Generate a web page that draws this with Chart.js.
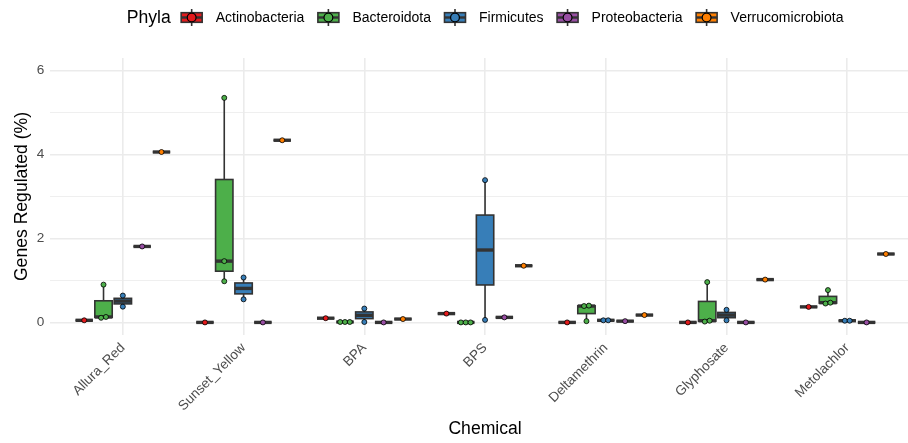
<!DOCTYPE html>
<html>
<head>
<meta charset="utf-8">
<script src="https://cdn.jsdelivr.net/npm/chart.js@4.4.1/dist/chart.umd.min.js"></script>
<style>
  html, body { margin: 0; padding: 0; background: #ffffff; overflow: hidden; }
  #wrap { width: 930px; height: 443px; }
</style>
</head>
<body>
<div id="wrap"><canvas id="c" width="930" height="443"></canvas></div>
<script>
// Categories and groups
const chemicals = ['Allura_Red', 'Sunset_Yellow', 'BPA', 'BPS', 'Deltamethrin', 'Glyphosate', 'Metolachlor'];
const phyla = ['Actinobacteria', 'Bacteroidota', 'Firmicutes', 'Proteobacteria', 'Verrucomicrobiota'];
const phylaColors = ['#E41A1C', '#4DAF4A', '#377EB8', '#984EA3', '#FF7F00'];

// Genes regulated (%) per chemical, one list of replicate values per chemical
const actinobacteria    = [[0.05], [0.00], [0.10], [0.21], [0.00], [0.00], [0.37]];
const bacteroidota      = [[0.11, 0.13, 0.90], [0.98, 1.46, 5.35], [0.01, 0.01, 0.01], [0.00, 0.00, 0.00],
                           [0.03, 0.39, 0.40], [0.02, 0.04, 0.96], [0.45, 0.47, 0.77]];
const firmicutes        = [[0.375, 0.64], [0.55, 1.07], [0.01, 0.33], [0.06, 3.39],
                           [0.05, 0.05], [0.05, 0.30], [0.04, 0.04]];
const proteobacteria    = [[1.81], [0.00], [0.00], [0.12], [0.03], [0.00], [0.00]];
const verrucomicrobiota = [[4.06], [4.34], [0.08], [1.35], [0.175], [1.02], [1.63]];

// Axis ticks
const yTicks = [0, 1, 2, 3, 4, 5, 6];
const yLabelled = [0, 2, 4, 6];

const samplesByPhylum = [actinobacteria, bacteroidota, firmicutes, proteobacteria, verrucomicrobiota];

// dodge spacing between phyla, half box width, and swarm spreading (axis units)
const DODGE = 0.16, BOX_HALF = 0.072, SWARM_TOL = 0.08, SWARM_STEP = 0.04;
const LINE = '#333333';
const FONT = '"Liberation Sans", Arial, Helvetica, sans-serif';

function quantile(sorted, p) {
  const h = (sorted.length - 1) * p, lo = Math.floor(h), hi = Math.ceil(h);
  return sorted[lo] + (h - lo) * (sorted[hi] - sorted[lo]);
}
function boxStats(vals) {
  const s = [...vals].sort((a, b) => a - b);
  const q1 = quantile(s, 0.25), med = quantile(s, 0.5), q3 = quantile(s, 0.75), iqr = q3 - q1;
  const lo = s.find(v => v >= q1 - 1.5 * iqr);
  const hi = [...s].reverse().find(v => v <= q3 + 1.5 * iqr);
  return { q1, med, q3, lo, hi };
}
// spread values that would sit on top of each other side by side
function swarm(vals, center) {
  const s = [...vals].sort((a, b) => a - b);
  const out = [];
  const emit = grp => grp.forEach((v, j) => out.push({ x: center + (j - (grp.length - 1) / 2) * SWARM_STEP, y: v }));
  let g = [s[0]];
  for (let i = 1; i < s.length; i++) {
    if (s[i] - g[g.length - 1] < SWARM_TOL) g.push(s[i]); else { emit(g); g = [s[i]]; }
  }
  emit(g);
  return out;
}
const slot = k => (k - (phyla.length - 1) / 2) * DODGE;

const datasets = phyla.map((name, k) => ({
  label: name,
  data: chemicals.flatMap((c, i) => swarm(samplesByPhylum[k][i], i + slot(k))),
  backgroundColor: phylaColors[k],
  borderColor: '#000000',
  borderWidth: 0.8,
  pointRadius: 2.5,
  pointHoverRadius: 2.5
}));

// Box-and-whisker layer, drawn under the points
const boxPlugin = {
  id: 'boxes',
  beforeDatasetsDraw(chart) {
    const { ctx, scales: { x, y } } = chart;
    ctx.save();
    phyla.forEach((name, k) => {
      chemicals.forEach((c, i) => {
        const st = boxStats(samplesByPhylum[k][i]);
        const cx = x.getPixelForValue(i + slot(k));
        const xl = x.getPixelForValue(i + slot(k) - BOX_HALF);
        const xr = x.getPixelForValue(i + slot(k) + BOX_HALF);
        const yq1 = y.getPixelForValue(st.q1), yq3 = y.getPixelForValue(st.q3);
        ctx.strokeStyle = LINE;
        ctx.lineWidth = 1.6;
        ctx.beginPath();
        ctx.moveTo(cx, y.getPixelForValue(st.hi)); ctx.lineTo(cx, yq3);
        ctx.moveTo(cx, yq1); ctx.lineTo(cx, y.getPixelForValue(st.lo));
        ctx.stroke();
        ctx.fillStyle = phylaColors[k];
        ctx.fillRect(xl, yq3, xr - xl, yq1 - yq3);
        ctx.strokeRect(xl, yq3, xr - xl, yq1 - yq3);
        ctx.lineWidth = 3.4;
        ctx.beginPath();
        const ym = y.getPixelForValue(st.med);
        ctx.moveTo(xl, ym); ctx.lineTo(xr, ym);
        ctx.stroke();
      });
    });
    ctx.restore();
  }
};

// Legend row: title followed by boxplot keys
const legendPlugin = {
  id: 'phylaLegend',
  afterDraw(chart) {
    const { ctx, chartArea } = chart;
    const cy = 17.5, keyW = 22, titleGap = 10, keyGap = 13, itemGap = 13;
    ctx.save();
    ctx.textBaseline = 'middle';
    ctx.font = `17.6px ${FONT}`;
    const titleW = ctx.measureText('Phyla').width;
    ctx.font = `14px ${FONT}`;
    const widths = phyla.map(p => ctx.measureText(p).width);
    const total = titleW + titleGap + widths.reduce((a, w) => a + keyW + keyGap + w, 0) + itemGap * (phyla.length - 1);
    let xPos = (chartArea.left + chartArea.right) / 2 - total / 2;
    ctx.fillStyle = '#000000';
    ctx.font = `17.6px ${FONT}`;
    ctx.fillText('Phyla', xPos, cy + 1);
    xPos += titleW + titleGap;
    phyla.forEach((p, k) => {
      const kx = xPos + keyW / 2;
      ctx.strokeStyle = LINE;
      ctx.lineWidth = 1.6;
      ctx.beginPath(); ctx.moveTo(kx, cy - 8.5); ctx.lineTo(kx, cy + 8.5); ctx.stroke();
      ctx.fillStyle = phylaColors[k];
      ctx.fillRect(kx - 10.5, cy - 4.8, 21, 9.6);
      ctx.strokeRect(kx - 10.5, cy - 4.8, 21, 9.6);
      ctx.lineWidth = 2.4;
      ctx.beginPath(); ctx.moveTo(kx - 10.5, cy); ctx.lineTo(kx + 10.5, cy); ctx.stroke();
      ctx.beginPath(); ctx.arc(kx, cy, 4.4, 0, Math.PI * 2);
      ctx.fillStyle = phylaColors[k]; ctx.fill();
      ctx.strokeStyle = '#000000'; ctx.lineWidth = 1.2; ctx.stroke();
      xPos += keyW + keyGap;
      ctx.fillStyle = '#000000';
      ctx.font = `14px ${FONT}`;
      ctx.fillText(p, xPos, cy + 1);
      xPos += widths[k] + itemGap;
    });
    ctx.restore();
  }
};

new Chart(document.getElementById('c'), {
  type: 'scatter',
  data: { datasets },
  plugins: [boxPlugin, legendPlugin],
  options: {
    responsive: false,
    animation: false,
    layout: { padding: { top: 58, right: 10.3, left: 0, bottom: 0 } },
    plugins: { legend: { display: false }, tooltip: { enabled: false } },
    scales: {
      x: {
        type: 'linear',
        min: -0.6,
        max: 6.6,
        afterBuildTicks: s => { s.ticks = chemicals.map((c, i) => ({ value: i })); },
        afterFit: s => { s.height = 108; },
        grid: { color: '#EBEBEB', lineWidth: 1.6, drawTicks: false },
        border: { display: false },
        ticks: {
          callback: v => chemicals[v],
          autoSkip: false,
          maxRotation: 45,
          minRotation: 45,
          padding: 5,
          color: '#4D4D4D',
          font: { family: FONT, size: 13.6 }
        },
        title: {
          display: true,
          text: 'Chemical',
          color: '#000000',
          font: { family: FONT, size: 17.6 },
          padding: { top: 0, bottom: 3 }
        }
      },
      y: {
        type: 'linear',
        min: -0.3,
        max: 6.3,
        afterBuildTicks: s => { s.ticks = yTicks.map(v => ({ value: v })); },
        afterFit: s => { s.width = 50.4; },
        grid: {
          color: '#EBEBEB',
          lineWidth: c => (yLabelled.includes(c.tick.value) ? 1.6 : 0.8),
          drawTicks: false
        },
        border: { display: false },
        ticks: {
          callback: v => (yLabelled.includes(v) ? String(v) : ''),
          padding: 6,
          color: '#4D4D4D',
          font: { family: FONT, size: 13.6 }
        },
        title: {
          display: true,
          text: 'Genes Regulated (%)',
          color: '#000000',
          font: { family: FONT, size: 17.6 },
          padding: { top: 12, bottom: 0 }
        }
      }
    }
  }
});
</script>
</body>
</html>
